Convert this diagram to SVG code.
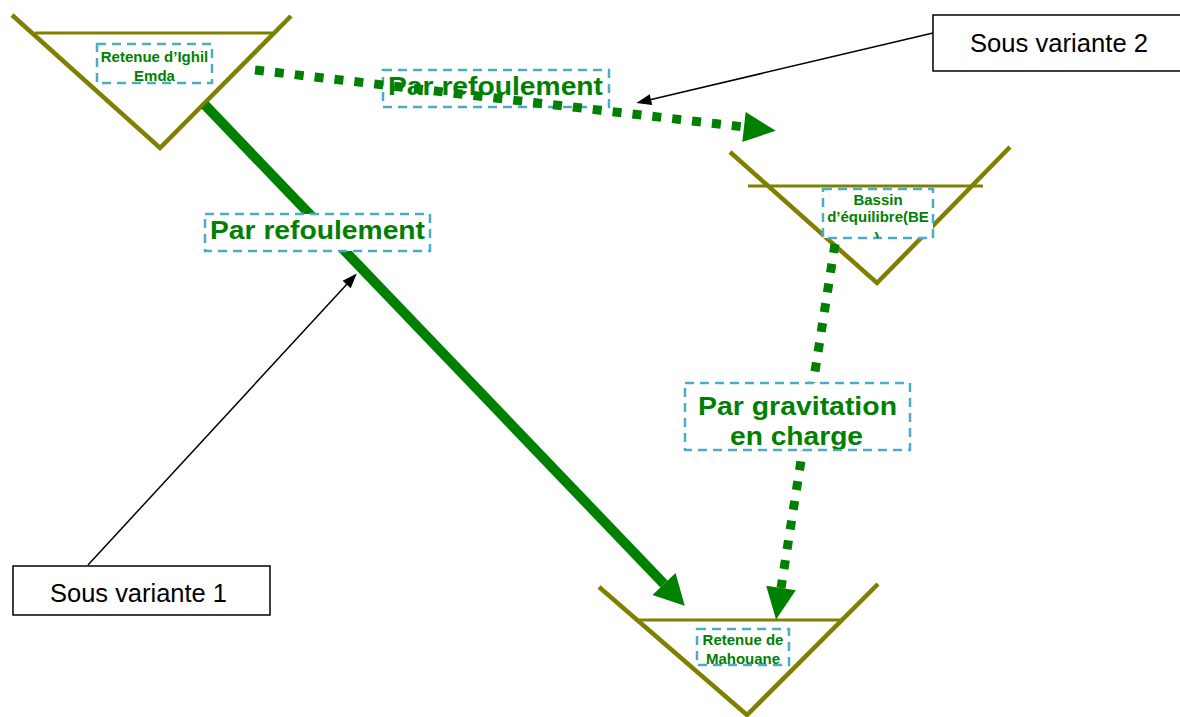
<svg xmlns="http://www.w3.org/2000/svg" width="1180" height="717" viewBox="0 0 1180 717">
<style>
.tri{fill:none;stroke:#808000;stroke-width:4.5;stroke-linejoin:miter}
.lvl{stroke:#808000;stroke-width:3}
.lbox{fill:#fff;stroke:#4BACC6;stroke-width:2.5;stroke-dasharray:9 6}
.lboxn{fill:none;stroke:#4BACC6;stroke-width:2.5;stroke-dasharray:9 6}
.nt{font-family:"Liberation Sans",Arial,sans-serif;font-weight:bold;font-size:15px;fill:#008000;text-anchor:middle}
.et{font-family:"Liberation Sans",Arial,sans-serif;font-weight:bold;font-size:26px;fill:#008000}
.st{font-family:"Liberation Sans",Arial,sans-serif;font-size:25px;fill:#000}
.sbox{fill:#fff;stroke:#000;stroke-width:1.5}
.solid{fill:none;stroke:#008000;stroke-width:10}
.dot{fill:none;stroke:#008000;stroke-width:9;stroke-dasharray:9 11}
.thin{fill:none;stroke:#000;stroke-width:1.5}
</style>
<defs>
<marker id="gaS" markerUnits="userSpaceOnUse" markerWidth="50" markerHeight="50" refX="0" refY="0" orient="auto" overflow="visible"><path d="M0,-16 L30,0 L0,16 Z" fill="#008000"/></marker>
<marker id="gaD" markerUnits="userSpaceOnUse" markerWidth="50" markerHeight="50" refX="0" refY="0" orient="auto" overflow="visible"><path d="M0,-15 L32,0 L0,15 Z" fill="#008000"/></marker>
<marker id="ba" markerUnits="userSpaceOnUse" markerWidth="20" markerHeight="20" refX="0" refY="0" orient="auto" overflow="visible"><path d="M-2,-5.5 L13,0 L-2,5.5 Z" fill="#000"/></marker>
<clipPath id="cB"><rect x="823" y="189" width="110" height="49"/></clipPath>
<clipPath id="cM"><rect x="697" y="629" width="92" height="36"/></clipPath>
<clipPath id="cG"><rect x="685" y="383" width="225" height="66"/></clipPath>
</defs>

<g id="node-ighil">
<polyline class="tri" points="12,15 160,148 291,16"/>
<line class="lvl" x1="35" y1="33" x2="272" y2="33"/>
<rect class="lbox" x="97" y="44" width="115" height="39"/>
<text class="nt" x="154.5" y="62">Retenue d’Ighil</text>
<text class="nt" x="154.5" y="81">Emda</text>
</g>

<g id="node-bassin">
<polyline class="tri" points="730,152 877,283 1010,147"/>
<line class="lvl" x1="748" y1="186" x2="983" y2="186"/>
<rect class="lbox" x="823" y="189" width="110" height="49"/>
<g clip-path="url(#cB)">
<text class="nt" x="878" y="205">Bassin</text>
<text class="nt" x="878" y="222">d’équilibre(BE</text>
<text class="nt" x="877" y="243">)</text>
</g>
</g>

<g id="node-mahouane">
<polyline class="tri" points="599,587 747,715 878,584"/>
<line class="lvl" x1="639" y1="620" x2="841" y2="620"/>
<rect class="lbox" x="697" y="629" width="92" height="36"/>
<g clip-path="url(#cM)">
<text class="nt" x="743" y="645">Retenue de</text>
<text class="nt" x="743" y="664">Mahouane</text>
</g>
</g>

<g id="label-top">
<rect class="lboxn" x="383" y="70" width="226" height="37"/>
<text class="et" x="388" y="95" textLength="215" lengthAdjust="spacingAndGlyphs">Par refoulement</text>
</g>

<g id="connectors">
<line class="solid" x1="205" y1="105" x2="664" y2="584" marker-end="url(#gaS)"/>
<line class="dot" x1="255" y1="70" x2="744" y2="127" marker-end="url(#gaD)"/>
<line class="dot" x1="835" y1="244" x2="781" y2="588" marker-end="url(#gaD)"/>
<line class="thin" x1="88" y1="565" x2="348" y2="283" marker-end="url(#ba)"/>
<line class="thin" x1="933" y1="33" x2="649" y2="100" marker-end="url(#ba)"/>
</g>

<g id="label-mid">
<rect class="lbox" x="205" y="214" width="225" height="37"/>
<text class="et" x="210" y="239" textLength="215" lengthAdjust="spacingAndGlyphs">Par refoulement</text>
</g>

<g id="label-grav">
<rect class="lbox" x="685" y="383" width="225" height="67"/>
<g clip-path="url(#cG)">
<text class="et" x="698" y="415" textLength="199" lengthAdjust="spacingAndGlyphs">Par gravitation</text>
<text class="et" x="730" y="445" textLength="133" lengthAdjust="spacingAndGlyphs">en charge</text>
</g>
</g>

<g id="note-sv2">
<rect class="sbox" x="933" y="15" width="250" height="56"/>
<text class="st" x="970" y="52" textLength="178" lengthAdjust="spacingAndGlyphs">Sous variante 2</text>
</g>

<g id="note-sv1">
<rect class="sbox" x="13" y="566" width="257" height="49"/>
<text class="st" x="50" y="602" textLength="177" lengthAdjust="spacingAndGlyphs">Sous variante 1</text>
</g>
</svg>
